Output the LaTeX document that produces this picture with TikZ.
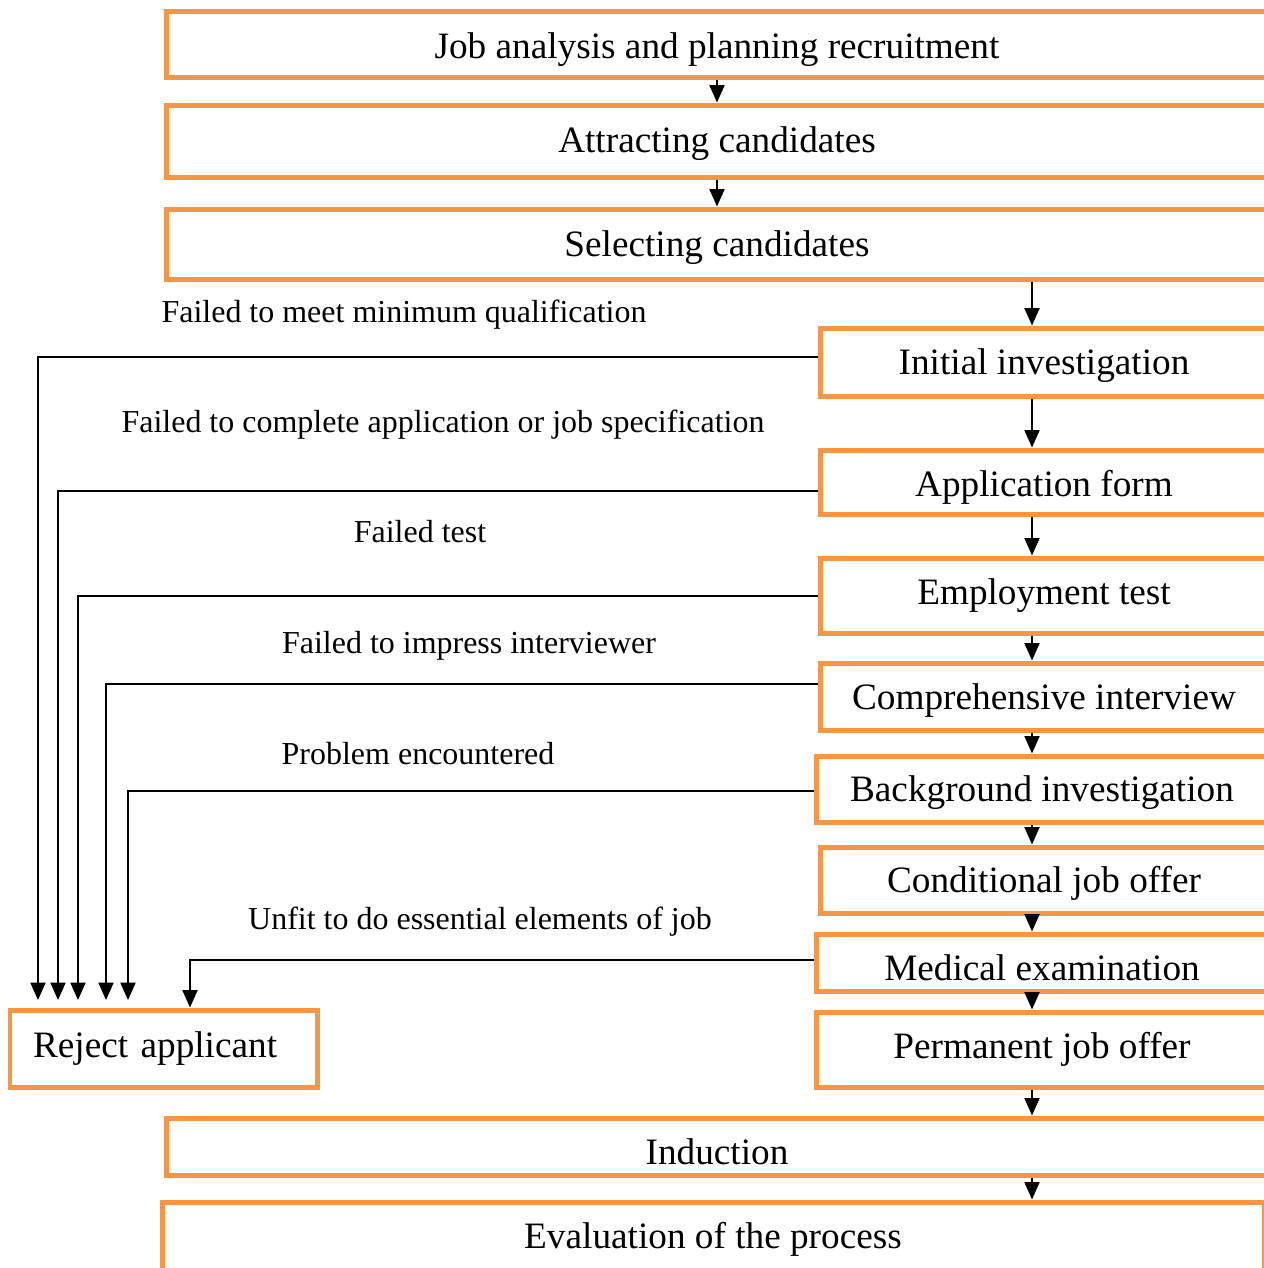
\documentclass[tikz,border=0pt]{standalone}
\usepackage{fontspec}
\setmainfont{Liberation Serif}
\usetikzlibrary{arrows.meta}
\definecolor{boxorange}{HTML}{F79646}
\newcommand\lowered[2]{\raisebox{-#1}[\height][\depth]{#2}}
\tikzset{
  box/.style={draw=boxorange, line width=0.1cm, rectangle, inner sep=0pt, fill=white,
    font=\fontsize{21.2pt}{25pt}\selectfont},
  lbl/.style={inner sep=0pt, font=\fontsize{18.2pt}{22pt}\selectfont},
  arr/.style={draw=black, line width=0.04cm, -{Triangle[width=0.3cm,length=0.35cm]}},
  ln/.style={draw=black, line width=0.04cm}
}
\begin{document}
\begin{tikzpicture}[x=0.02cm,y=-0.02cm]
\clip (0,0) rectangle (1264,1268);
\fill[white] (0,0) rectangle (1264,1268);
% wide boxes
\node[box, minimum width=1102*0.02cm, minimum height=66*0.02cm] (B1) at (717,44) {\lowered{0.12cm}{Job analysis and planning recruitment}};
\node[box, minimum width=1102*0.02cm, minimum height=72*0.02cm] (B2) at (717,141) {\lowered{0.06cm}{Attracting candidates}};
\node[box, minimum width=1102*0.02cm, minimum height=70*0.02cm] (B3) at (717,244) {\lowered{0.08cm}{Selecting candidates}};
% right column
\node[box, minimum width=448*0.02cm, minimum height=68*0.02cm] (Init) at (1044,362) {\lowered{0.08cm}{Initial investigation}};
\node[box, minimum width=448*0.02cm, minimum height=64*0.02cm] (App) at (1044,482) {\lowered{0.1cm}{Application form}};
\node[box, minimum width=448*0.02cm, minimum height=75*0.02cm] (Emp) at (1044,595.5) {Employment test};
\node[box, minimum width=448*0.02cm, minimum height=67*0.02cm] (Comp) at (1044,696.5) {\lowered{0.08cm}{Comprehensive interview}};
\node[box, minimum width=452*0.02cm, minimum height=66*0.02cm] (Back) at (1042,789) {\lowered{0.08cm}{Background investigation}};
\node[box, minimum width=448*0.02cm, minimum height=66*0.02cm] (Cond) at (1044,880) {\lowered{0.06cm}{Conditional job offer}};
\node[box, minimum width=452*0.02cm, minimum height=57*0.02cm] (Med) at (1042,962.5) {\lowered{0.1cm}{Medical examination}};
\node[box, minimum width=452*0.02cm, minimum height=75*0.02cm] (Perm) at (1042,1049.5) {Permanent job offer};
% bottom boxes
\node[box, minimum width=1102*0.02cm, minimum height=57*0.02cm] (Ind) at (717,1146.5) {\lowered{0.1cm}{Induction}};
\node[box, minimum width=1102*0.02cm, minimum height=68*0.02cm] (Eval) at (713,1236) {\lowered{0.06cm}{Evaluation of the process}};
% reject
\node[box, minimum width=307*0.02cm, minimum height=77*0.02cm, text width=5.22cm, align=left] (Rej) at (163.5,1048.5) {Reject applicant};
% labels
\node[lbl] (L1) at (404,315) {Failed to meet minimum qualification};
\node[lbl] (L2) at (443,425) {Failed to complete application or job specification};
\node[lbl] (L3) at (420,532) {Failed test};
\node[lbl] (L4) at (469,646) {Failed to impress interviewer};
\node[lbl] (L5) at (418,754) {Problem encountered};
\node[lbl] (L6) at (480,922) {Unfit to do essential elements of job};
% flow arrows
\coordinate (fx) at (1032,0);
\draw[arr] (B1.south) -- (B2.north);
\draw[arr] (B2.south) -- (B3.north);
\draw[arr] (B3.south -| fx) -- (Init.north -| fx);
\draw[arr] (Init.south -| fx) -- (App.north -| fx);
\draw[arr] (App.south -| fx) -- (Emp.north -| fx);
\draw[arr] (Emp.south -| fx) -- (Comp.north -| fx);
\draw[arr] (Comp.south -| fx) -- (Back.north -| fx);
\draw[arr] (Back.south -| fx) -- (Cond.north -| fx);
\draw[arr] (Cond.south -| fx) -- (Med.north -| fx);
\draw[arr] (Med.south -| fx) -- (Perm.north -| fx);
\draw[arr] (Perm.south -| fx) -- (Ind.north -| fx);
\draw[arr] (Ind.south -| fx) -- (Eval.north -| fx);
% reject connectors
\coordinate (h1) at (0,357);
\coordinate (h2) at (0,491);
\coordinate (h3) at (0,596);
\coordinate (h4) at (0,684);
\coordinate (h5) at (0,791);
\coordinate (h6) at (0,960);
\coordinate (t1) at (38,1000);
\coordinate (t2) at (58,1000);
\coordinate (t3) at (78,1000);
\coordinate (t4) at (106,1000);
\coordinate (t5) at (128,1000);
\coordinate (v6) at (190,0);
\draw[arr] (Init.west |- h1) -| (t1);
\draw[arr] (App.west |- h2) -| (t2);
\draw[arr] (Emp.west |- h3) -| (t3);
\draw[arr] (Comp.west |- h4) -| (t4);
\draw[arr] (Back.west |- h5) -| (t5);
\draw[arr] (Med.west |- h6) -| (v6 |- Rej.north);
\end{tikzpicture}
\end{document}
